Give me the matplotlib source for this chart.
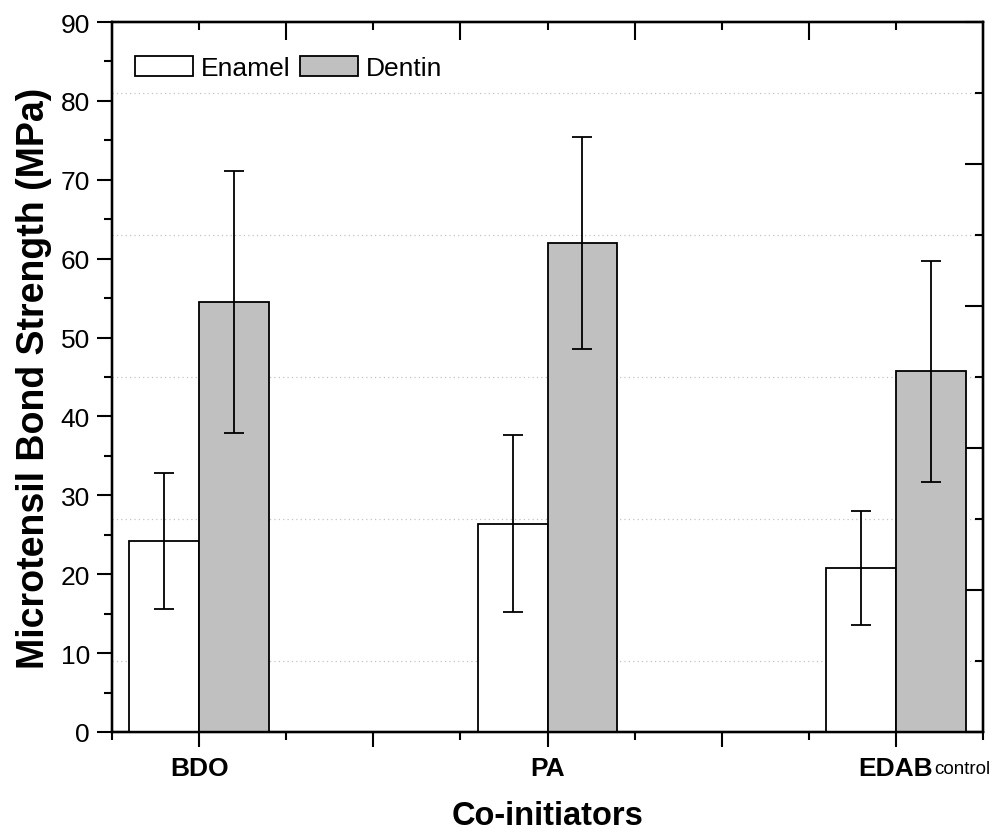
import matplotlib.pyplot as plt
import numpy as np
from matplotlib.patches import Patch
from matplotlib.ticker import MultipleLocator, FixedLocator

plt.rcParams['font.family'] = ['Liberation Sans', 'DejaVu Sans']

# bond strength (MPa), mean and SD for each co-initiator
groups = ['BDO', 'PA', 'EDAB']
group_pos = [1, 3, 5]
enamel_mean = [24.2, 26.4, 20.8]
enamel_sd = [8.6, 11.2, 7.2]
dentin_mean = [54.5, 62.0, 45.7]
dentin_sd = [16.6, 13.4, 14.0]

width = 0.4
x = np.array(group_pos, dtype=float)

fig = plt.figure(figsize=(9.98, 8.37), dpi=100)
ax = fig.add_axes([0.1122, 0.1243, 0.8728, 0.8482])

# right-hand scale only carries the dotted grid and inward ticks
axr = ax.twinx()
axr.set_ylim(0, 90)
axr.yaxis.set_major_locator(MultipleLocator(18))
axr.yaxis.set_minor_locator(FixedLocator([9, 27, 45, 63, 81]))
axr.tick_params(axis='y', which='major', direction='in', length=13, width=1.5, labelright=False)
axr.tick_params(axis='y', which='minor', direction='in', length=6, width=1.5)
axr.grid(True, which='minor', axis='y', linestyle=(0, (1, 2.5)), color='#c4c4c4', linewidth=0.9)
axr.grid(False, which='major')
ax.set_zorder(axr.get_zorder() + 1)
ax.patch.set_visible(False)

err_kw = dict(ecolor='black', elinewidth=1.3, capsize=7, capthick=1.3)
ax.bar(x - width / 2, enamel_mean, width, yerr=enamel_sd, color='white',
       edgecolor='black', linewidth=1.3, error_kw=err_kw, label='Enamel')
ax.bar(x + width / 2, dentin_mean, width, yerr=dentin_sd, color='#c0c0c0',
       edgecolor='black', linewidth=1.3, error_kw=err_kw, label='Dentin')

ax.set_xlim(0.5, 5.5)
ax.set_ylim(0, 90)
ax.yaxis.set_major_locator(MultipleLocator(10))
ax.yaxis.set_minor_locator(MultipleLocator(5))
ax.xaxis.set_minor_locator(MultipleLocator(0.5))
ax.set_xticks([1, 2, 3, 4, 5], ['BDO', '', 'PA', '', 'EDAB'])
ax.tick_params(axis='both', which='major', direction='out', length=11, width=1.5, labelsize=19)
ax.tick_params(axis='both', which='minor', direction='out', length=6, width=1.5)
ax.tick_params(axis='x', which='major', pad=6)
ax.tick_params(axis='y', which='major', pad=5)
for lbl in ax.get_xticklabels():
    lbl.set_fontweight('bold')
ax.annotate('control', xy=(5, 0), xycoords=('data', 'axes fraction'),
            xytext=(38, -41), textcoords='offset pixels', fontsize=13.5,
            ha='left', va='baseline')

# top axis with ticks offset by half a category
axt = ax.twiny()
axt.set_xlim(0.5, 5.5)
axt.xaxis.set_major_locator(FixedLocator([1.5, 2.5, 3.5, 4.5]))
axt.xaxis.set_minor_locator(FixedLocator([1, 2, 3, 4, 5]))
axt.tick_params(axis='x', which='major', direction='in', length=13, width=1.5, labeltop=False)
axt.tick_params(axis='x', which='minor', direction='in', length=6, width=1.5)

for a in (ax, axr, axt):
    for s in a.spines.values():
        s.set_linewidth(1.6)

ax.set_ylabel('Microtensil Bond Strength (MPa)', fontsize=27, fontweight='bold', labelpad=6)
ax.set_xlabel('Co-initiators', fontsize=23.5, fontweight='bold', labelpad=15)

handles = [Patch(facecolor='white', edgecolor='black', linewidth=1.3, label='Enamel'),
           Patch(facecolor='#c0c0c0', edgecolor='black', linewidth=1.3, label='Dentin')]
ax.legend(handles=handles, loc='upper left', ncol=2, frameon=False, fontsize=19,
          handlelength=2.2, handleheight=0.82, handletextpad=0.3, columnspacing=0.35,
          borderaxespad=0.6, bbox_to_anchor=(-0.004, 0.99))

fig.savefig('out.png', dpi=100)
